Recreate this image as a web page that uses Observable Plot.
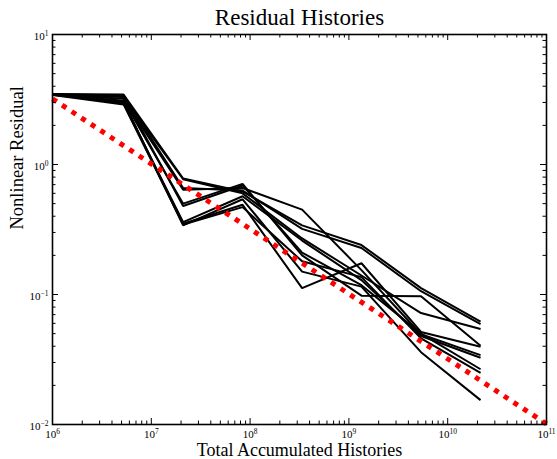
<!DOCTYPE html>
<html><head><meta charset="utf-8">
<script src="https://cdn.jsdelivr.net/npm/d3@7"></script>
<script src="https://cdn.jsdelivr.net/npm/@observablehq/plot@0.6"></script>
<style>body{margin:0;background:#fff;} #chart svg{display:block;}</style>
</head><body><div id="chart"></div>
<script>
// Total accumulated histories at each iteration
const historiesX = [1e6, 5.24e6, 2.10e7, 8.39e7, 3.36e8, 1.34e9, 5.37e9, 2.15e10];
// Nonlinear residual per run
const run1  = [3.48, 3.45, 0.78, 0.62, 0.34, 0.24, 0.112, 0.0618];
const run2  = [3.47, 3.40, 0.66, 0.63, 0.32, 0.228, 0.106, 0.0593];
const run3  = [3.46, 3.30, 0.77, 0.60, 0.27, 0.14, 0.072, 0.0543];
const run4  = [3.45, 3.10, 0.50, 0.71, 0.20, 0.098, 0.097, 0.0404];
const run5  = [3.44, 3.00, 0.35, 0.49, 0.112, 0.174, 0.0515, 0.0397];
const run6  = [3.46, 3.20, 0.64, 0.66, 0.45, 0.154, 0.0495, 0.0342];
const run7  = [3.47, 2.95, 0.36, 0.57, 0.26, 0.129, 0.048, 0.0326];
const run8  = [3.45, 3.35, 0.48, 0.69, 0.21, 0.118, 0.050, 0.0266];
const run9  = [3.43, 2.90, 0.345, 0.47, 0.18, 0.136, 0.046, 0.025];
const run10 = [3.46, 3.05, 0.34, 0.54, 0.15, 0.115, 0.036, 0.0154];
// Reference slope -1/2 line
const refX = [1e6, 1e11];
const refY = [3.2, 0.0101];
// Axis ticks
const xMajor = [1e6, 1e7, 1e8, 1e9, 1e10, 1e11];
const xTickLabels = ["10^6", "10^7", "10^8", "10^9", "10^10", "10^11"];
const yMajor = [1e-2, 1e-1, 1e0, 1e1];
const yTickLabels = ["10^−2", "10^−1", "10^0", "10^1"];
const title = "Residual Histories";
const xTitle = "Total Accumulated Histories";
const yTitle = "Nonlinear Residual";

const runs = [run1, run2, run3, run4, run5, run6, run7, run8, run9, run10];
const rows = runs.flatMap((r, i) => r.map((v, j) => ({x: historiesX[j], y: v, run: i})));
const ref = refX.map((x, i) => ({x, y: refY[i]}));
const minors = (majors) => majors.slice(0, -1).flatMap(m => [2,3,4,5,6,7,8,9].map(k => k * m));
const xMinor = minors(xMajor);
const yMinor = minors(yMajor);

const W = 557, H = 459, mL = 52, mR = 11, mT = 34, mB = 35;
const pw = W - mL - mR, ph = H - mT - mB;
const majLen = 6, minLen = 3.5;
const serif = "'Liberation Serif', 'Times New Roman', Times, serif";

const chart = Plot.plot({
  width: W, height: H,
  marginLeft: mL, marginRight: mR, marginTop: mT, marginBottom: mB,
  style: {fontFamily: serif, background: "#fff", color: "#000"},
  x: {type: "log", domain: [1e6, 1e11], axis: null},
  y: {type: "log", domain: [1e-2, 1e1], axis: null},
  marks: [
    Plot.line(rows, {x: "x", y: "y", z: "run", stroke: "black", strokeWidth: 2, strokeLinejoin: "miter", strokeLinecap: "butt"}),
    Plot.line(ref, {x: "x", y: "y", stroke: "red", strokeWidth: 5, strokeDasharray: "5,6.5", strokeLinecap: "butt"}),
    // ticks (inward, all four sides)
    Plot.tickX(xMajor, {x: d => d, insetTop: ph - majLen, stroke: "black"}),
    Plot.tickX(xMajor, {x: d => d, insetBottom: ph - majLen, stroke: "black"}),
    Plot.tickX(xMinor, {x: d => d, insetTop: ph - minLen, stroke: "black"}),
    Plot.tickX(xMinor, {x: d => d, insetBottom: ph - minLen, stroke: "black"}),
    Plot.tickY(yMajor, {y: d => d, insetRight: pw - majLen, stroke: "black"}),
    Plot.tickY(yMajor, {y: d => d, insetLeft: pw - majLen, stroke: "black"}),
    Plot.tickY(yMinor, {y: d => d, insetRight: pw - minLen, stroke: "black"}),
    Plot.tickY(yMinor, {y: d => d, insetLeft: pw - minLen, stroke: "black"}),
    Plot.frame({stroke: "black", strokeWidth: 1.6}),
    // tick labels
    Plot.text(xMajor, {x: d => d, text: (d, i) => xTickLabels[i], frameAnchor: "bottom", dy: 9.5, lineAnchor: "middle", fontSize: 11, fill: "black"}),
    Plot.text(yMajor, {y: d => d, text: (d, i) => yTickLabels[i], frameAnchor: "left", dx: -4, dy: 1.5, textAnchor: "end", lineAnchor: "middle", fontSize: 11, fill: "black"}),
    // titles
    Plot.text([title], {text: d => d, frameAnchor: "top", dy: -17, lineAnchor: "middle", fontSize: 23, fill: "black"}),
    Plot.text([xTitle], {text: d => d, frameAnchor: "bottom", dy: 25.3, lineAnchor: "middle", fontSize: 18, fill: "black"}),
    Plot.text([yTitle], {text: d => d, frameAnchor: "left", dx: -35, rotate: -90, lineAnchor: "middle", fontSize: 18.5, fill: "black"})
  ]
});

// render exponents as raised superscripts
d3.select(chart).selectAll("text")
  .filter(function() { return this.textContent.includes("^"); })
  .each(function() {
    const [base, exp] = this.textContent.split("^");
    const t = d3.select(this);
    t.text(null);
    t.append("tspan").text(base);
    t.append("tspan").attr("dy", "-0.5em").attr("font-size", "0.68em").text(exp);
  });

document.getElementById("chart").append(chart);
</script>
</body></html>
